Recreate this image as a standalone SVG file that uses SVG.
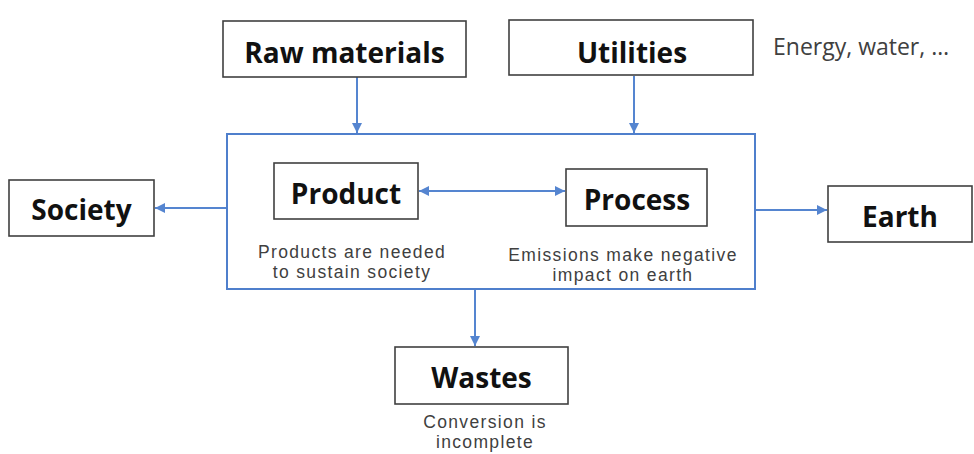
<svg xmlns="http://www.w3.org/2000/svg" width="974" height="454" viewBox="0 0 974 454">
<defs>
<style>
.box{fill:#fff;stroke:#404040;stroke-width:1.6}
.main{fill:none;stroke:#4f7fcc;stroke-width:2}
.t{font-family:"Open Sans","Liberation Sans",sans-serif;font-weight:bold;font-size:28px;fill:#111;text-anchor:middle}
.s{font-family:"Liberation Sans",Arial,sans-serif;font-size:17.5px;letter-spacing:1.35px;fill:#404040;text-anchor:middle}
.c{stroke:#5585d0;stroke-width:2;fill:none}
</style>
<marker id="ah" viewBox="0 0 10 10" refX="10" refY="5" markerWidth="5" markerHeight="5" orient="auto-start-reverse" markerUnits="strokeWidth">
<path d="M0,0 L10,5 L0,10 z" fill="#5585d0"/>
</marker>
</defs>
<rect width="974" height="454" fill="#fff"/>
<g id="connectors">
<line class="c" x1="357" y1="77" x2="357" y2="133" marker-end="url(#ah)"/>
<line class="c" x1="634" y1="76" x2="634" y2="133" marker-end="url(#ah)"/>
<line class="c" x1="227" y1="208" x2="155" y2="208" marker-end="url(#ah)"/>
<line class="c" x1="755" y1="210" x2="827" y2="210" marker-end="url(#ah)"/>
<line class="c" x1="419" y1="191" x2="565" y2="191" marker-start="url(#ah)" marker-end="url(#ah)"/>
<line class="c" x1="475" y1="289" x2="475" y2="346" marker-end="url(#ah)"/>
</g>
<g id="system">
<rect class="main" x="227" y="134" width="528" height="155"/>
</g>
<g id="raw-materials">
<rect class="box" x="223" y="21" width="243" height="56"/>
<text class="t" x="344.5" y="63">Raw materials</text>
</g>
<g id="utilities">
<rect class="box" x="509" y="20" width="244" height="55"/>
<text class="t" x="632" y="63">Utilities</text>
</g>
<g id="energy-note">
<text x="773" y="55" style="font-family:'Open Sans','Liberation Sans',sans-serif;font-size:23px;fill:#404040">Energy, water, …</text>
</g>
<g id="society">
<rect class="box" x="9" y="180" width="145" height="56"/>
<text class="t" x="81.5" y="220">Society</text>
</g>
<g id="product">
<rect class="box" x="274" y="163" width="144" height="56"/>
<text class="t" x="346" y="204">Product</text>
<text class="s" x="352" y="258">Products are needed</text>
<text class="s" x="352" y="278">to sustain society</text>
</g>
<g id="process">
<rect class="box" x="566" y="169" width="141" height="57"/>
<text class="t" x="637" y="210">Process</text>
<text class="s" x="623" y="261">Emissions make negative</text>
<text class="s" x="623" y="281">impact on earth</text>
</g>
<g id="earth">
<rect class="box" x="828" y="186" width="144" height="56"/>
<text class="t" x="900" y="227">Earth</text>
</g>
<g id="wastes">
<rect class="box" x="395" y="347" width="173" height="57"/>
<text class="t" x="481.5" y="388">Wastes</text>
<text class="s" x="485" y="428">Conversion is</text>
<text class="s" x="485" y="448">incomplete</text>
</g>
</svg>
